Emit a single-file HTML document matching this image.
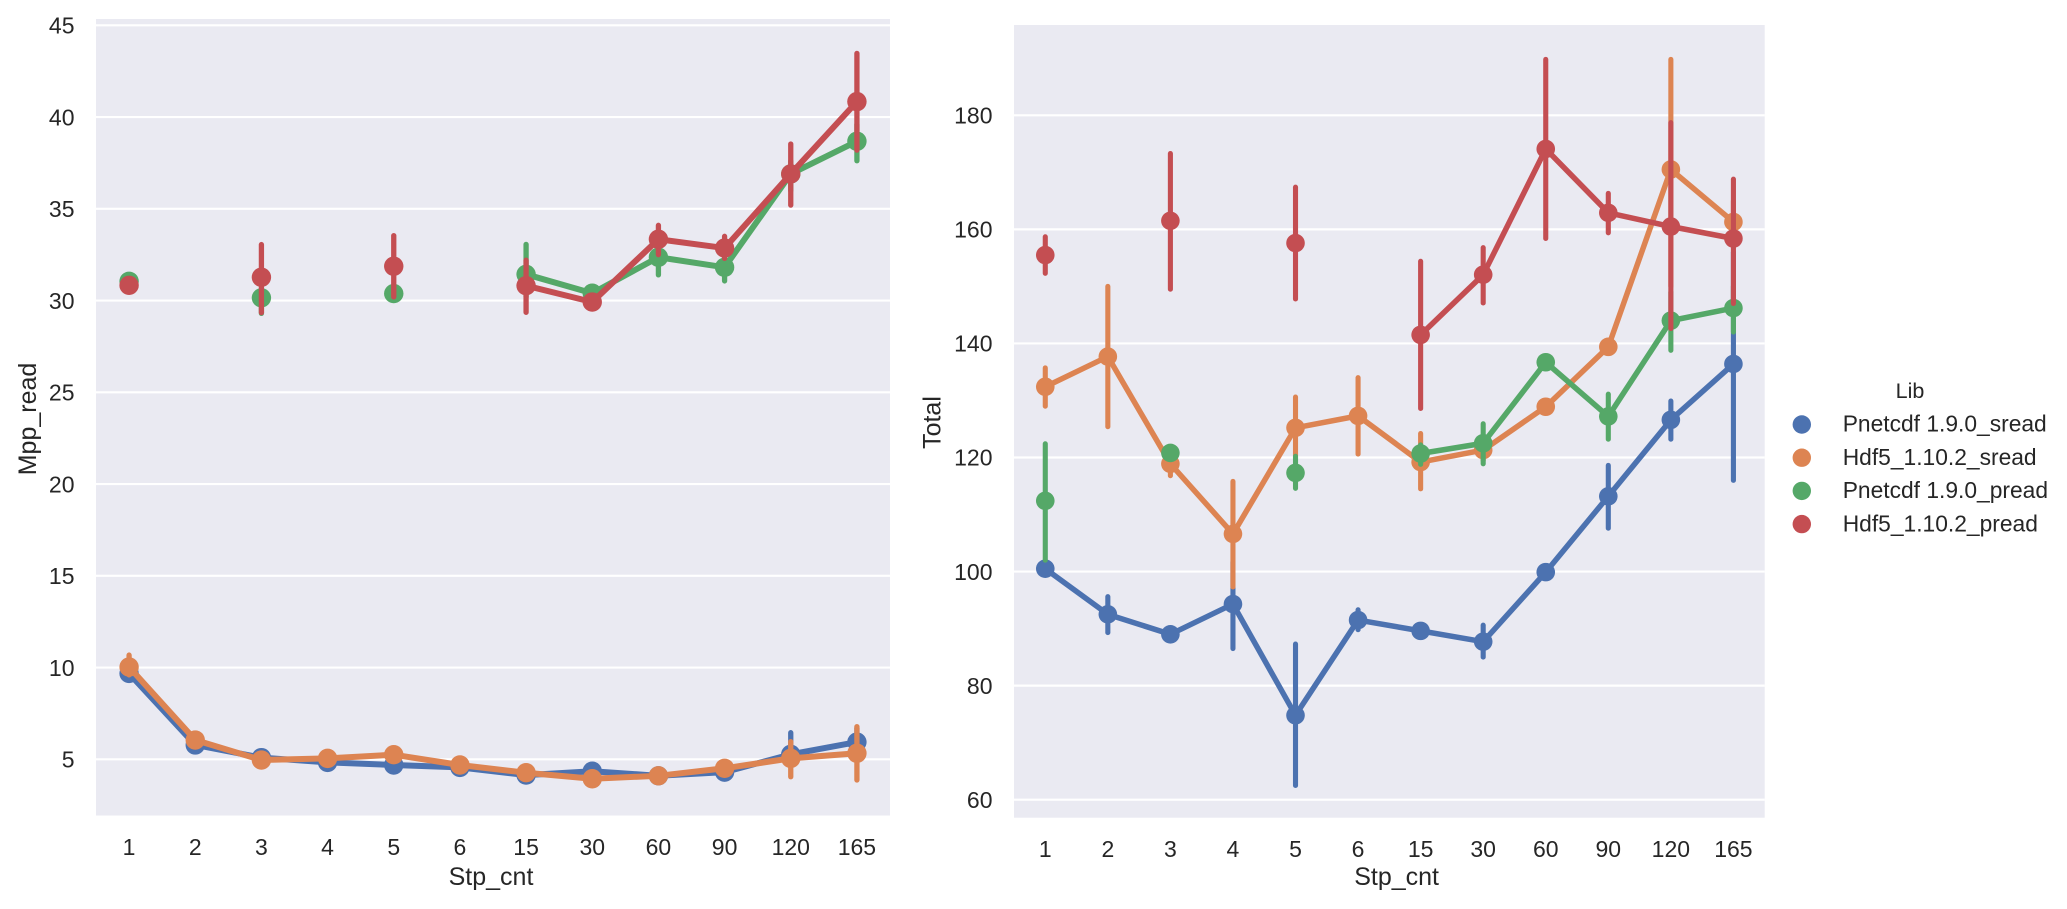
<!DOCTYPE html>
<html>
<head>
<meta charset="utf-8">
<title>Mpp_read and Total by Stp_cnt</title>
<style>
  html, body { margin: 0; padding: 0; background: #fff; }
  svg { display: block; }
  text { font-family: "Liberation Sans", sans-serif; fill: #262626; }
</style>
</head>
<body>
<svg id="chart" xmlns="http://www.w3.org/2000/svg" width="2067" height="909" viewBox="0 0 2067 909"></svg>
<script>
// ---------- shared categories and labels ----------
const categories = ["1","2","3","4","5","6","15","30","60","90","120","165"];
const seriesNames = ["Pnetcdf 1.9.0_sread","Hdf5_1.10.2_sread","Pnetcdf 1.9.0_pread","Hdf5_1.10.2_pread"];
const seriesKeys = ["pnetcdf-sread","hdf5-sread","pnetcdf-pread","hdf5-pread"];
const seriesColors = ["#4C72B0","#DD8452","#55A868","#C44E52"];
const leftTicks = [5,10,15,20,25,30,35,40,45];
const rightTicks = [60,80,100,120,140,160,180];

// ---------- left chart: Mpp_read ----------
const leftBlue    = [9.68,5.78,5.09,4.83,4.69,4.56,4.14,4.35,4.10,4.30,5.27,5.94];
const leftBlueLo  = [9.40,5.50,4.90,4.60,4.40,4.40,3.95,4.20,4.00,4.15,4.60,5.30];
const leftBlueHi  = [9.95,6.00,5.30,5.05,5.00,4.70,4.30,4.50,4.20,4.45,6.45,6.70];
const leftOrange   = [10.03,6.05,4.96,5.05,5.25,4.69,4.27,3.94,4.10,4.51,5.05,5.33];
const leftOrangeLo = [9.60,5.80,4.80,4.80,5.00,4.50,4.10,3.80,4.00,4.30,4.05,3.87];
const leftOrangeHi = [10.68,6.25,5.10,5.20,5.50,4.90,4.45,4.10,4.20,4.70,5.96,6.78];
const leftGreen   = [31.05,null,30.15,null,30.38,null,31.43,30.40,32.36,31.81,36.90,38.68];
const leftGreenLo = [30.90,null,29.30,null,30.20,null,30.20,30.20,31.40,31.07,36.00,37.62];
const leftGreenHi = [31.20,null,30.60,null,30.60,null,33.06,30.60,33.10,32.40,37.60,39.60];
const leftRed   = [30.83,null,31.27,null,31.87,null,30.81,29.92,33.34,32.86,36.90,40.84];
const leftRedLo = [30.70,null,29.34,null,30.20,null,29.36,29.80,32.50,32.30,35.20,38.20];
const leftRedHi = [31.00,null,33.05,null,33.54,null,32.20,30.10,34.10,33.50,38.53,43.47];

// ---------- right chart: Total ----------
const rightBlue    = [100.5,92.5,89.0,94.3,74.8,91.5,89.6,87.7,99.9,113.2,126.6,136.4];
const rightBlueLo  = [99.5,89.3,88.0,86.5,62.5,89.8,88.8,85.0,99.0,107.6,123.2,116.0];
const rightBlueHi  = [101.5,95.6,90.0,101.7,87.3,93.3,90.4,90.6,100.8,118.6,129.9,156.0];
const rightOrange   = [132.4,137.7,118.9,106.6,125.2,127.3,119.2,121.3,128.9,139.4,170.5,161.3];
const rightOrangeLo = [129.0,125.4,116.8,97.3,120.3,120.6,114.5,119.5,128.0,138.6,150.0,157.0];
const rightOrangeHi = [135.7,150.0,121.0,115.8,130.6,134.0,124.2,123.4,129.8,140.2,189.8,165.0];
const rightGreen   = [112.4,null,120.8,null,117.3,null,120.7,122.5,136.7,127.2,144.0,146.2];
const rightGreenLo = [102.0,null,120.0,null,114.6,null,118.8,118.9,136.0,123.2,138.8,142.0];
const rightGreenHi = [122.4,null,121.6,null,120.2,null,122.2,125.9,137.4,131.1,149.0,150.0];
const rightRed   = [155.5,null,161.5,null,157.6,null,141.5,152.05,174.1,162.9,160.5,158.4];
const rightRedLo = [152.3,null,149.5,null,147.8,null,128.6,147.1,158.4,159.4,142.6,147.0];
const rightRedHi = [158.7,null,173.3,null,167.4,null,154.4,156.8,189.8,166.3,178.7,168.8];

// ---------- axis functions ----------
const svgNS = "http://www.w3.org/2000/svg";
const root = document.getElementById("chart");

function makeAxis(left, right, top, bottom, v0, y0, v1, y1) {
  const step = (right - left) / categories.length;
  return {
    left, right, top, bottom,
    x: i => left + step * (i + 0.5),
    y: v => y0 + (v - v0) * (y1 - y0) / (v1 - v0)
  };
}
const leftAxis = makeAxis(96, 890, 19, 815.5, 5, 759.3, 45, 25.3);
const rightAxis = makeAxis(1014, 1764.7, 25, 817.7, 60, 799.7, 180, 115.3);

function el(tag, attrs, parent) {
  const node = document.createElementNS(svgNS, tag);
  for (const k in attrs) node.setAttribute(k, attrs[k]);
  (parent || root).appendChild(node);
  return node;
}

function drawPanel(panel, axis, ticks, yLabelText, yLabelX, yLabelY, tickBaseline, xLabelX, strokes, series) {
  const g = el("g", {});
  
  

  const bg = el("rect", { x: axis.left, y: axis.top, width: axis.right - axis.left, height: axis.bottom - axis.top, fill: "#EAEAF2" }, g);
  
  

  ticks.forEach(t => {
    const yy = axis.y(t);
    const grid = el("line", { x1: axis.left, x2: axis.right, y1: yy, y2: yy, stroke: "#fff", "stroke-width": 2.2 }, g);
    
    
    const lab = el("text", { x: axis.left - 21.5, y: yy + 8.2, "text-anchor": "end", "font-size": 23 }, g);
    
    
    lab.textContent = String(t);
  });

  categories.forEach((c, i) => {
    const lab = el("text", { x: axis.x(i), y: tickBaseline, "text-anchor": "middle", "font-size": 23 }, g);
    
    
    lab.textContent = c;
  });

  const xt = el("text", { x: xLabelX, y: 885, "text-anchor": "middle", "font-size": 25 }, g);
  
  
  xt.textContent = "Stp_cnt";

  const yt = el("text", { x: yLabelX, y: yLabelY, "text-anchor": "middle", "font-size": 25, transform: "rotate(-90 " + yLabelX + " " + yLabelY + ")" }, g);
  
  
  yt.textContent = yLabelText;

  series.forEach((s, si) => {
    const color = seriesColors[si];
    const sg = el("g", {}, g);
    
    

    // connected line, broken at missing categories
    let d = "";
    let pen = false;
    s.mean.forEach((v, i) => {
      if (v === null) { pen = false; return; }
      d += (pen ? "L" : "M") + axis.x(i).toFixed(2) + " " + axis.y(v).toFixed(2);
      pen = true;
    });
    const line = el("path", { d: d, fill: "none", stroke: color, "stroke-width": strokes.line, "stroke-linejoin": "round", "stroke-linecap": "round" }, sg);
    
    

    // confidence intervals
    s.mean.forEach((v, i) => {
      if (v === null) return;
      const ci = el("line", { x1: axis.x(i), x2: axis.x(i), y1: axis.y(s.lo[i]), y2: axis.y(s.hi[i]), stroke: color, "stroke-width": strokes.ci, "stroke-linecap": "round" }, sg);
      
      
    });

    // markers
    s.mean.forEach((v, i) => {
      if (v === null) return;
      const pt = el("circle", { cx: axis.x(i), cy: axis.y(v), r: strokes.r, fill: color }, sg);
      
      
    });
  });
}

drawPanel("mpp-read", leftAxis, leftTicks, "Mpp_read", 36, 419, 855, 491, { line: 6, ci: 5.3, r: 9.7 }, [
  { mean: leftBlue, lo: leftBlueLo, hi: leftBlueHi },
  { mean: leftOrange, lo: leftOrangeLo, hi: leftOrangeHi },
  { mean: leftGreen, lo: leftGreenLo, hi: leftGreenHi },
  { mean: leftRed, lo: leftRedLo, hi: leftRedHi }
]);

drawPanel("total", rightAxis, rightTicks, "Total", 940.7, 422.5, 857, 1396.6, { line: 5.5, ci: 5.1, r: 9.3 }, [
  { mean: rightBlue, lo: rightBlueLo, hi: rightBlueHi },
  { mean: rightOrange, lo: rightOrangeLo, hi: rightOrangeHi },
  { mean: rightGreen, lo: rightGreenLo, hi: rightGreenHi },
  { mean: rightRed, lo: rightRedLo, hi: rightRedHi }
]);

// ---------- legend ----------
const legend = el("g", {});


const legendTitle = el("text", { x: 1910, y: 398, "text-anchor": "middle", "font-size": 21.5 }, legend);


legendTitle.textContent = "Lib";
seriesNames.forEach((name, i) => {
  const yy = 424.5 + i * 33.2;
  const dot = el("circle", { cx: 1801.8, cy: yy, r: 9.2, fill: seriesColors[i] }, legend);
  
  
  const lab = el("text", { x: 1842.7, y: yy + 7.2, "font-size": 22.8 }, legend);
  
  
  lab.textContent = name;
});
</script>
</body>
</html>
